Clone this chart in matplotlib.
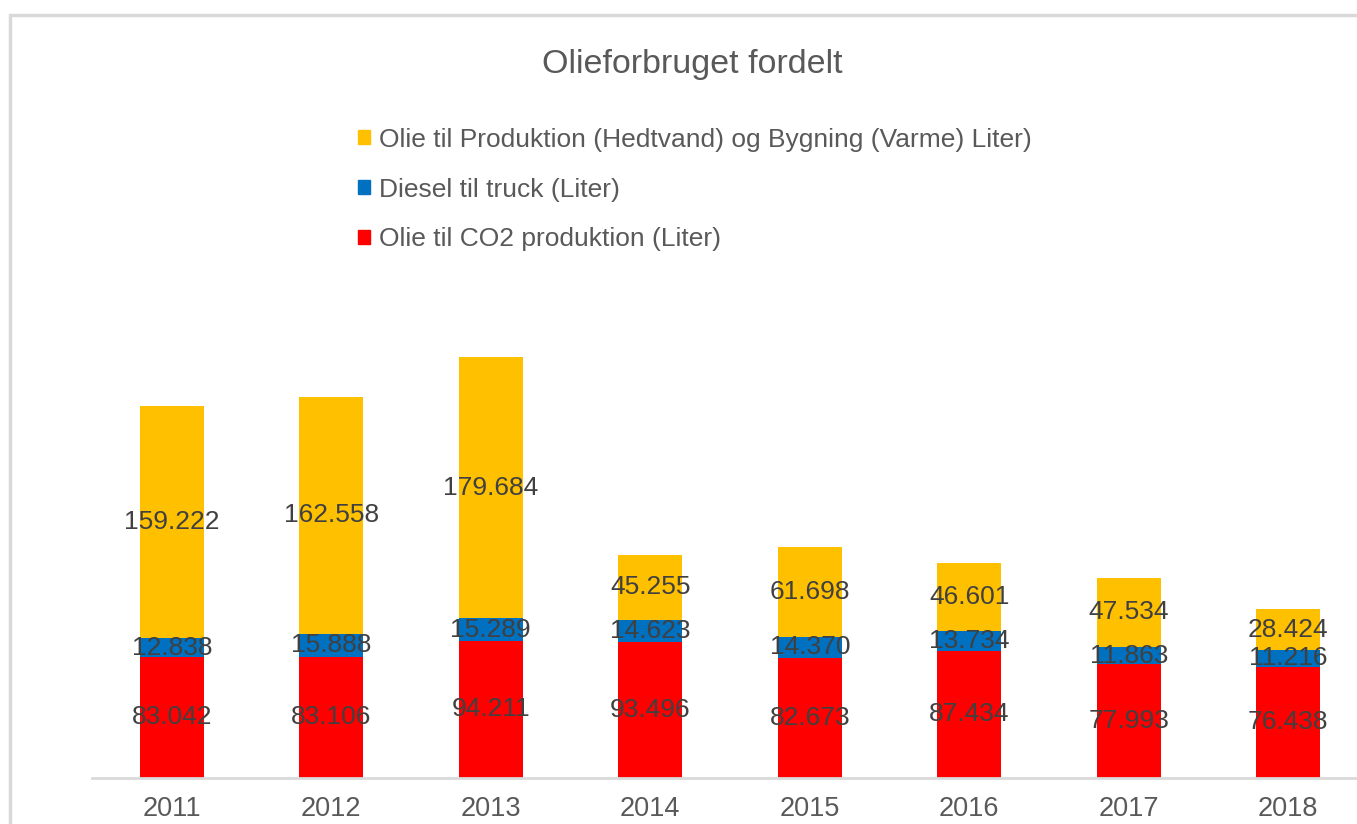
import matplotlib.pyplot as plt
from matplotlib.patches import Patch, Rectangle
import numpy as np

plt.rcParams['font.family'] = ['Liberation Sans', 'DejaVu Sans']

years = ['2011', '2012', '2013', '2014', '2015', '2016', '2017', '2018']
co2_oil = [83042, 83106, 94211, 93496, 82673, 87434, 77993, 76438]
diesel = [12838, 15888, 15289, 14623, 14370, 13734, 11863, 11216]
heat_oil = [159222, 162558, 179684, 45255, 61698, 46601, 47534, 28424]

series_names = ['Olie til CO2 produktion (Liter)',
                'Diesel til truck (Liter)',
                'Olie til Produktion (Hedtvand) og Bygning (Varme) Liter)']
colors = ['#FF0000', '#0070C0', '#FFC000']
text_gray = '#595959'
label_gray = '#404040'

W, H = 1357, 824
fig = plt.figure(figsize=(W / 100, H / 100), dpi=100)

# chart frame (cropped on right/bottom in the reference)
fig.patches.append(Rectangle((10 / W, -0.1), 1.2, 1 - 15 / H + 0.1,
                             transform=fig.transFigure, fill=False,
                             edgecolor='#d9d9d9', linewidth=2.5))

ax = fig.add_axes([92 / W, 46 / H, 1276 / W, 510 / H])

x = np.arange(len(years))
bottom = np.zeros(len(years))
for vals, name, c in zip([co2_oil, diesel, heat_oil], series_names, colors):
    vals = np.array(vals)
    ax.bar(x, vals, width=0.4, bottom=bottom, color=c, label=name)
    for xi, b, v in zip(x, bottom, vals):
        s = f'{v:,}'.replace(',', '.')
        ax.text(xi, b + v / 2, s, ha='center', va='center',
                fontsize=19, color=label_gray)
    bottom += vals

ax.set_xlim(-0.5, len(years) - 0.5)
ax.set_ylim(0, 350000)
ax.set_xticks(x)
ax.set_xticklabels(years, fontsize=19.5, color=text_gray)
ax.tick_params(axis='x', length=0, pad=13)
ax.set_yticks([])
for sp in ['top', 'right', 'left']:
    ax.spines[sp].set_visible(False)
ax.spines['bottom'].set_color('#d9d9d9')
ax.spines['bottom'].set_linewidth(2)

fig.text(692 / W, 1 - 65 / H, 'Olieforbruget fordelt', ha='center',
         va='center', fontsize=24.5, color=text_gray)

handles = [Patch(color=c) for c in colors[::-1]]
fig.legend(handles, series_names[::-1], loc='upper left',
           bbox_to_anchor=(334 / W, 1 - 104 / H), frameon=False,
           fontsize=19, labelcolor=text_gray, handlelength=0.45,
           handleheight=0.45, handletextpad=0.35, labelspacing=0.98)

fig.savefig('out.png', dpi=100)
